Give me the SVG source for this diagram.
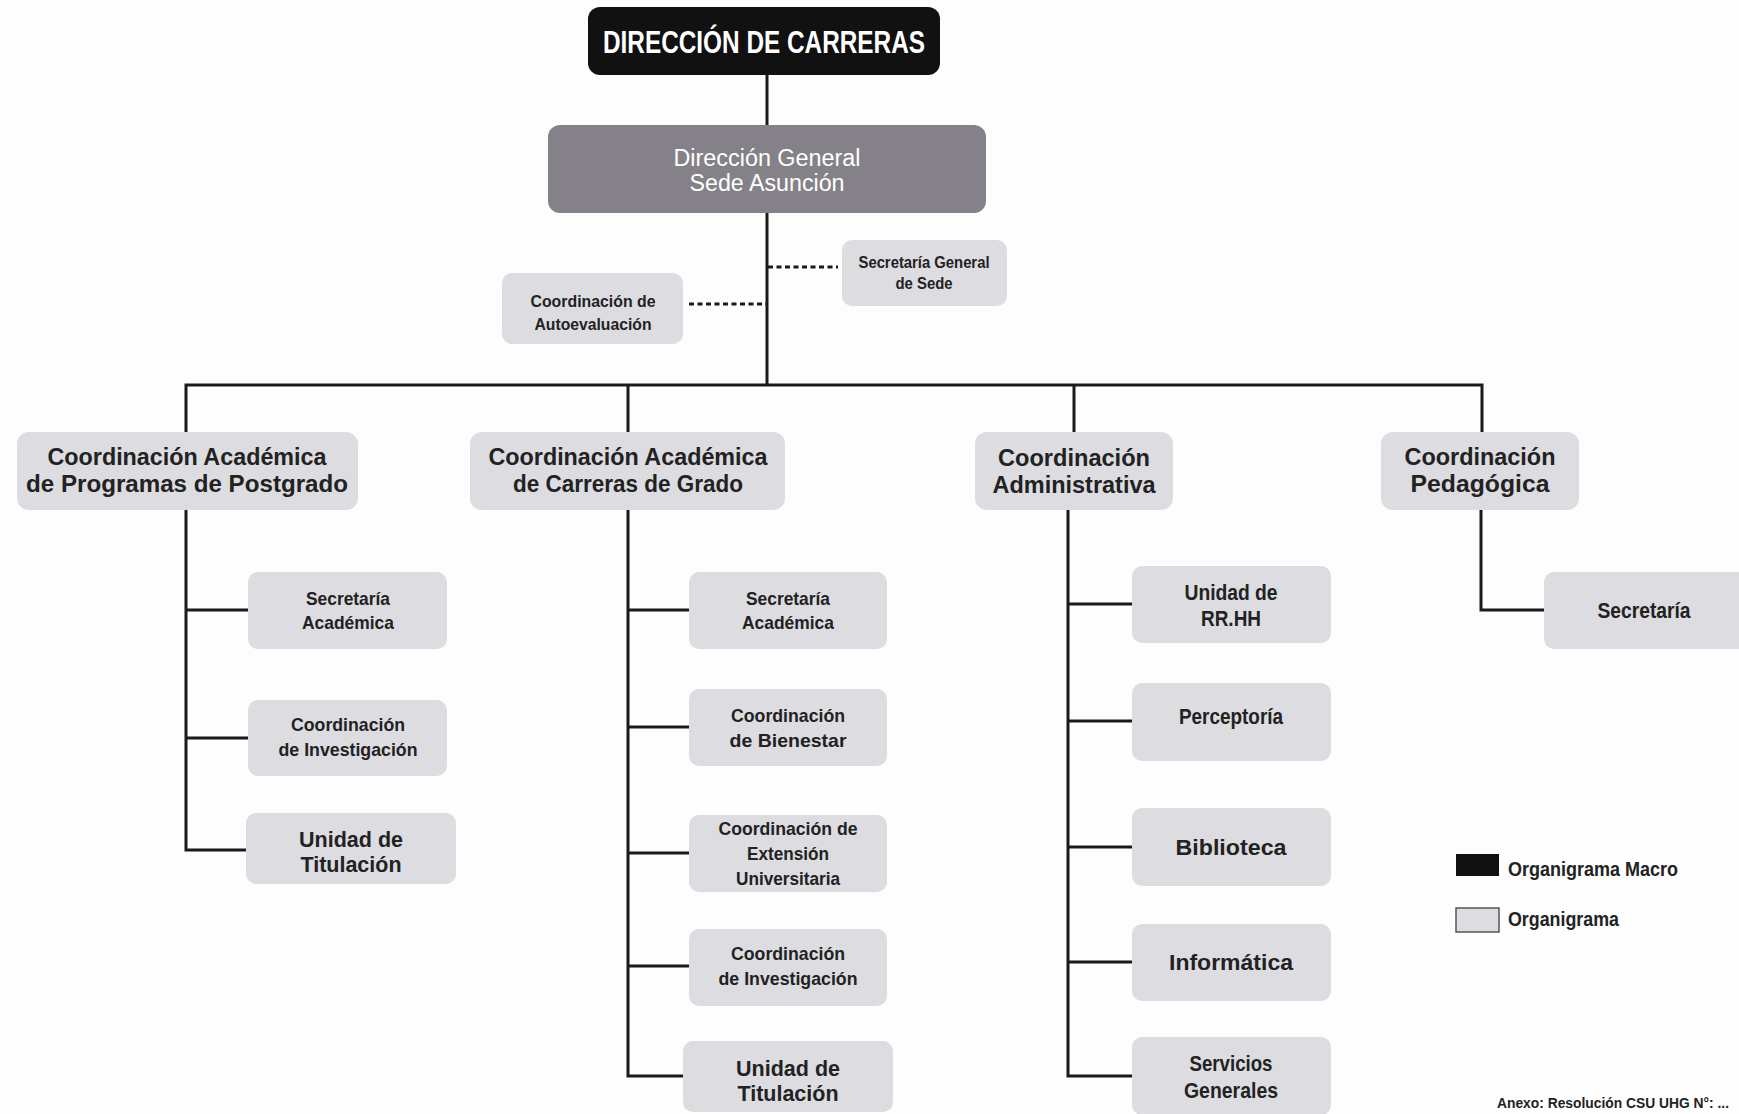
<svg xmlns="http://www.w3.org/2000/svg" width="1739" height="1114" viewBox="0 0 1739 1114">
<style>
.bg{fill:#fdfdfd}
.lt{fill:#dcdce1}
.mid{fill:#848288}
.blk{fill:#111}
.ln{stroke:#1a1a1a;stroke-width:3;fill:none}
.ds{stroke:#1a1a1a;stroke-width:3;fill:none;stroke-dasharray:5 3.5}
text{font-family:"Liberation Sans Narrow","Liberation Sans",Arial,sans-serif;font-weight:bold;fill:#222;text-anchor:middle}
.w{fill:#fff}
.reg{font-family:"Liberation Sans",Arial,sans-serif;font-weight:normal}
.wide{font-family:"Liberation Sans",Arial,sans-serif}
.n15{font-size:17px}
.n17{font-size:19px}
.n20{font-size:22px}
.b22{font-size:22px}
.b24{font-size:23px}
.lg{text-anchor:start;font-size:20px}
</style>
<rect class="bg" x="0" y="0" width="1739" height="1114"/>
<g id="connectors">
<line class="ln" x1="767" y1="75" x2="767" y2="386"/>
<line class="ds" x1="768" y1="267" x2="838" y2="267"/>
<line class="ds" x1="689" y1="304" x2="766" y2="304"/>
<polyline class="ln" points="186,432 186,385 1482,385 1482,432"/>
<line class="ln" x1="628" y1="385" x2="628" y2="432"/>
<line class="ln" x1="1074" y1="385" x2="1074" y2="432"/>
<polyline class="ln" points="186,510 186,850 248,850"/>
<line class="ln" x1="186" y1="610" x2="248" y2="610"/>
<line class="ln" x1="186" y1="738" x2="248" y2="738"/>
<polyline class="ln" points="628,510 628,1076 689,1076"/>
<line class="ln" x1="628" y1="610" x2="689" y2="610"/>
<line class="ln" x1="628" y1="727" x2="689" y2="727"/>
<line class="ln" x1="628" y1="853" x2="689" y2="853"/>
<line class="ln" x1="628" y1="966" x2="689" y2="966"/>
<polyline class="ln" points="1068,510 1068,1076 1132,1076"/>
<line class="ln" x1="1068" y1="604" x2="1132" y2="604"/>
<line class="ln" x1="1068" y1="721" x2="1132" y2="721"/>
<line class="ln" x1="1068" y1="847" x2="1132" y2="847"/>
<line class="ln" x1="1068" y1="962" x2="1132" y2="962"/>
<polyline class="ln" points="1481,510 1481,610 1544,610"/>
</g>
<g id="direccion-carreras">
<rect class="blk" x="588" y="7" width="352" height="68" rx="12"/>
<text class="w" x="764" y="53" font-size="32" textLength="322" lengthAdjust="spacingAndGlyphs">DIRECCIÓN DE CARRERAS</text>
</g>
<g id="direccion-general">
<rect class="mid" x="548" y="125" width="438" height="88" rx="12"/>
<text class="w reg" x="767" y="166" font-size="23" textLength="187" lengthAdjust="spacingAndGlyphs">Dirección General</text>
<text class="w reg" x="767" y="191" font-size="23" textLength="155" lengthAdjust="spacingAndGlyphs">Sede Asunción</text>
</g>
<g id="secretaria-general">
<rect class="lt" x="842" y="240" width="165" height="66" rx="10"/>
<text class="n15" x="924" y="268" textLength="131" lengthAdjust="spacingAndGlyphs">Secretaría General</text>
<text class="n15" x="924" y="289" textLength="57" lengthAdjust="spacingAndGlyphs">de Sede</text>
</g>
<g id="coord-autoevaluacion">
<rect class="lt" x="502" y="273" width="181" height="71" rx="10"/>
<text class="n15" x="593" y="307" textLength="125" lengthAdjust="spacingAndGlyphs">Coordinación de</text>
<text class="n15" x="593" y="330" textLength="117" lengthAdjust="spacingAndGlyphs">Autoevaluación</text>
</g>
<g id="coord-postgrado">
<rect class="lt" x="17" y="432" width="341" height="78" rx="12"/>
<text class="wide b24" x="187" y="465" textLength="279" lengthAdjust="spacingAndGlyphs">Coordinación Académica</text>
<text class="wide b24" x="187" y="492" textLength="322" lengthAdjust="spacingAndGlyphs">de Programas de Postgrado</text>
</g>
<g id="coord-grado">
<rect class="lt" x="470" y="432" width="315" height="78" rx="12"/>
<text class="wide b24" x="628" y="465" textLength="279" lengthAdjust="spacingAndGlyphs">Coordinación Académica</text>
<text class="wide b24" x="628" y="492" textLength="230" lengthAdjust="spacingAndGlyphs">de Carreras de Grado</text>
</g>
<g id="coord-administrativa">
<rect class="lt" x="975" y="432" width="198" height="78" rx="12"/>
<text class="wide b24" x="1074" y="466" textLength="152" lengthAdjust="spacingAndGlyphs">Coordinación</text>
<text class="wide b24" x="1074" y="493" textLength="163" lengthAdjust="spacingAndGlyphs">Administrativa</text>
</g>
<g id="coord-pedagogica">
<rect class="lt" x="1381" y="432" width="198" height="78" rx="12"/>
<text class="wide b24" x="1480" y="465" textLength="151" lengthAdjust="spacingAndGlyphs">Coordinación</text>
<text class="wide b24" x="1480" y="492" textLength="139" lengthAdjust="spacingAndGlyphs">Pedagógica</text>
</g>
<g id="p-secretaria-academica">
<rect class="lt" x="248" y="572" width="199" height="77" rx="10"/>
<text class="n17" x="348" y="605" textLength="84" lengthAdjust="spacingAndGlyphs">Secretaría</text>
<text class="n17" x="348" y="629" textLength="92" lengthAdjust="spacingAndGlyphs">Académica</text>
</g>
<g id="p-coord-investigacion">
<rect class="lt" x="248" y="700" width="199" height="76" rx="10"/>
<text class="n17" x="348" y="731" textLength="114" lengthAdjust="spacingAndGlyphs">Coordinación</text>
<text class="n17" x="348" y="756" textLength="139" lengthAdjust="spacingAndGlyphs">de Investigación</text>
</g>
<g id="p-unidad-titulacion">
<rect class="lt" x="246" y="813" width="210" height="71" rx="10"/>
<text class="wide b22" x="351" y="847" textLength="104" lengthAdjust="spacingAndGlyphs">Unidad de</text>
<text class="wide b22" x="351" y="872" textLength="101" lengthAdjust="spacingAndGlyphs">Titulación</text>
</g>
<g id="g-secretaria-academica">
<rect class="lt" x="689" y="572" width="198" height="77" rx="10"/>
<text class="n17" x="788" y="605" textLength="84" lengthAdjust="spacingAndGlyphs">Secretaría</text>
<text class="n17" x="788" y="629" textLength="92" lengthAdjust="spacingAndGlyphs">Académica</text>
</g>
<g id="g-coord-bienestar">
<rect class="lt" x="689" y="689" width="198" height="77" rx="10"/>
<text class="n17" x="788" y="722" textLength="114" lengthAdjust="spacingAndGlyphs">Coordinación</text>
<text class="n17" x="788" y="747" textLength="117" lengthAdjust="spacingAndGlyphs">de Bienestar</text>
</g>
<g id="g-coord-extension">
<rect class="lt" x="689" y="815" width="198" height="77" rx="10"/>
<text class="n17" x="788" y="835" textLength="139" lengthAdjust="spacingAndGlyphs">Coordinación de</text>
<text class="n17" x="788" y="860" textLength="82" lengthAdjust="spacingAndGlyphs">Extensión</text>
<text class="n17" x="788" y="885" textLength="104" lengthAdjust="spacingAndGlyphs">Universitaria</text>
</g>
<g id="g-coord-investigacion">
<rect class="lt" x="689" y="929" width="198" height="77" rx="10"/>
<text class="n17" x="788" y="960" textLength="114" lengthAdjust="spacingAndGlyphs">Coordinación</text>
<text class="n17" x="788" y="985" textLength="139" lengthAdjust="spacingAndGlyphs">de Investigación</text>
</g>
<g id="g-unidad-titulacion">
<rect class="lt" x="683" y="1041" width="210" height="71" rx="10"/>
<text class="wide b22" x="788" y="1076" textLength="104" lengthAdjust="spacingAndGlyphs">Unidad de</text>
<text class="wide b22" x="788" y="1101" textLength="101" lengthAdjust="spacingAndGlyphs">Titulación</text>
</g>
<g id="a-rrhh">
<rect class="lt" x="1132" y="566" width="199" height="77" rx="10"/>
<text class="n20" x="1231" y="600" textLength="93" lengthAdjust="spacingAndGlyphs">Unidad de</text>
<text class="n20" x="1231" y="626" textLength="60" lengthAdjust="spacingAndGlyphs">RR.HH</text>
</g>
<g id="a-perceptoria">
<rect class="lt" x="1132" y="683" width="199" height="78" rx="10"/>
<text class="n20" x="1231" y="724" textLength="104" lengthAdjust="spacingAndGlyphs">Perceptoría</text>
</g>
<g id="a-biblioteca">
<rect class="lt" x="1132" y="808" width="199" height="78" rx="10"/>
<text class="wide b22" x="1231" y="855" textLength="111" lengthAdjust="spacingAndGlyphs">Biblioteca</text>
</g>
<g id="a-informatica">
<rect class="lt" x="1132" y="924" width="199" height="77" rx="10"/>
<text class="wide b22" x="1231" y="970" textLength="124" lengthAdjust="spacingAndGlyphs">Informática</text>
</g>
<g id="a-servicios">
<rect class="lt" x="1132" y="1037" width="199" height="78" rx="10"/>
<text class="n20" x="1231" y="1071" textLength="83" lengthAdjust="spacingAndGlyphs">Servicios</text>
<text class="n20" x="1231" y="1098" textLength="94" lengthAdjust="spacingAndGlyphs">Generales</text>
</g>
<g id="d-secretaria">
<rect class="lt" x="1544" y="572" width="210" height="77" rx="10"/>
<text class="n20" x="1644" y="618" textLength="93" lengthAdjust="spacingAndGlyphs">Secretaría</text>
</g>
<g id="legend">
<rect x="1456" y="854" width="43" height="22" fill="#111"/>
<text class="lg" x="1508" y="876" textLength="170" lengthAdjust="spacingAndGlyphs">Organigrama Macro</text>
<rect x="1456" y="908" width="43" height="24" fill="#dcdce1" stroke="#555" stroke-width="1.5"/>
<text class="lg" x="1508" y="926" textLength="111" lengthAdjust="spacingAndGlyphs">Organigrama</text>
</g>
<text x="1497" y="1108" font-size="14" style="text-anchor:start" textLength="232" lengthAdjust="spacingAndGlyphs">Anexo: Resolución CSU UHG N°: ...</text>
</svg>
